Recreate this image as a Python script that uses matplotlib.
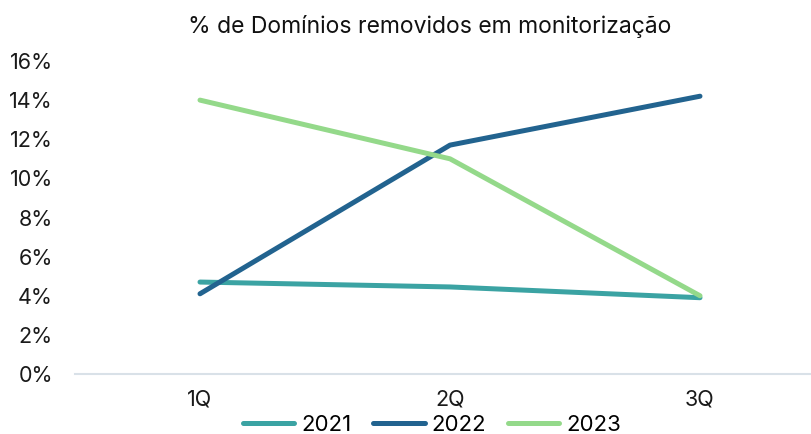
import matplotlib.pyplot as plt
from matplotlib.ticker import PercentFormatter

# dados
trimestres = ["1Q", "2Q", "3Q"]
v2021 = [0.047, 0.0445, 0.039]
v2022 = [0.041, 0.117, 0.142]
v2023 = [0.140, 0.110, 0.040]
anos = ["2021", "2022", "2023"]
cores = ["#3BA3A3", "#22638F", "#94D98A"]

plt.rcParams['font.family'] = ['Inter', 'DejaVu Sans']

fig = plt.figure(figsize=(8.11, 4.34), dpi=100)
ax = fig.add_axes([75/811, 1 - 374/434, 750/811, (374 - 61)/434])

x = range(len(trimestres))
for serie, ano, cor in zip([v2021, v2022, v2023], anos, cores):
    ax.plot(x, serie, color=cor, linewidth=3.6, solid_capstyle='round',
            solid_joinstyle='round', label=ano)

ax.set_xlim(-0.5, 2.5)
ax.set_ylim(0, 0.16)
ax.set_yticks([i / 100 for i in range(0, 17, 2)])
ax.yaxis.set_major_formatter(PercentFormatter(1.0, decimals=0))
ax.set_xticks(list(x))
ax.set_xticklabels(trimestres)

for s in ['top', 'right', 'left']:
    ax.spines[s].set_visible(False)
ax.spines['bottom'].set_color('#D9E1E8')
ax.spines['bottom'].set_linewidth(1.5)
ax.tick_params(axis='both', length=0, labelsize=15.5, colors='#1a1a1a')
ax.tick_params(axis='y', pad=16)
ax.tick_params(axis='x', pad=11)

fig.text(430/811, 1 - 26/434, "% de Domínios removidos em monitorização",
         ha='center', va='center', fontsize=16.5, color='#111111')

fig.legend(loc='center', bbox_to_anchor=(432/811, 1 - 425/434), ncol=3,
           frameon=False, fontsize=16, handlelength=2.3, columnspacing=1.0,
           handletextpad=0.3)

fig.savefig("out.png", dpi=100)
